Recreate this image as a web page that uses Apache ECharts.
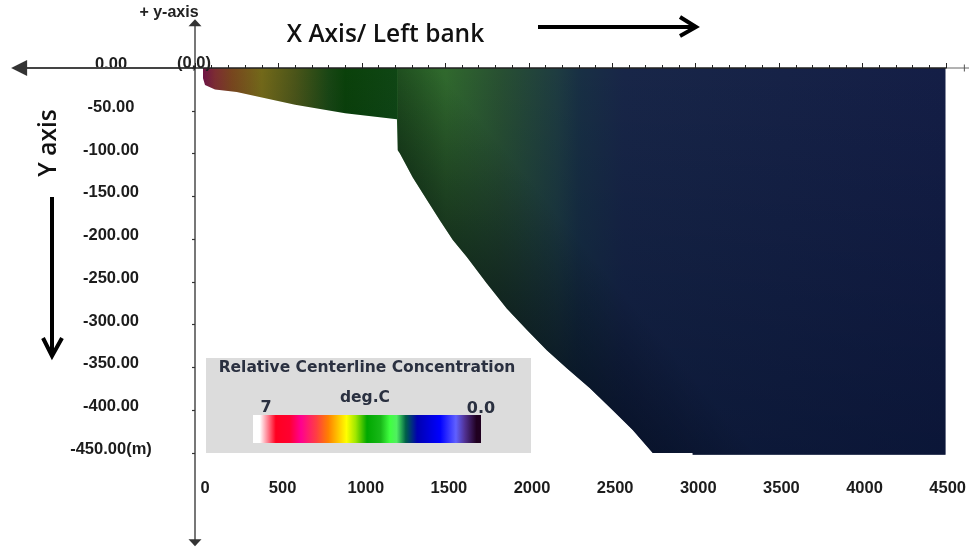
<!DOCTYPE html>
<html>
<head>
<meta charset="utf-8">
<style>
html,body{margin:0;padding:0;background:#fff;overflow:hidden}
#c{width:969px;height:549px;filter:blur(0.45px)}
</style>
<script src="https://cdn.jsdelivr.net/npm/echarts@6/dist/echarts.min.js"></script>
</head>
<body>
<div id="c"></div>
<script>
// ---- data ----
const xTickValues = [0,500,1000,1500,2000,2500,3000,3500,4000,4500];
const xTickLabels = ['0','500','1000','1500','2000','2500','3000','3500','4000','4500'];
const yTickValues = [0,-50,-100,-150,-200,-250,-300,-350,-400,-450];
const yTickLabels = ['0.00','-50.00','-100.00','-150.00','-200.00','-250.00','-300.00','-350.00','-400.00','-450.00(m)'];
// outline of the plume (m, m)
const plumeX = [48,48,60,120,250,600,900,1210,1215,1228,1305,1389,1467,1545,1629,1749,1868,1988,2108,2228,2365,2503,2623,2743,2982,2982,4497,4497];
const plumeY = [0,-12,-20,-25,-28,-43,-53,-60,-96,-100,-128,-154,-178,-201,-221,-252,-281,-306,-330,-351,-374,-400,-423,-450,-450,-452,-452,0];
const lowerBasinStart = 8; // index in the outline where the wide lower reach begins
// centerline concentration along the plume
const stationX = [48,120,222,400,600,800,900,1209,1214,1500,1830,2170,2300,2570,4497];
const stationC = [5.6,5.2,4.9,4.2,3.7,3.4,3.2,3.0,2.8,2.5,2.2,1.9,1.6,1.2,0.5];

// ---- styling ----
const plumeScale = [[5.6,'#6e1446'],[5.2,'#7d2d32'],[4.9,'#78461e'],[4.2,'#736919'],[3.7,'#4b5519'],[3.4,'#194614'],[3.2,'#0a410a'],[3.0,'#0f4614'],[2.8,'#235a23'],[2.5,'#30692d'],[2.2,'#285032'],[1.9,'#1e3c41'],[1.6,'#183044'],[1.2,'#182648'],[0.5,'#141e46']];
function plumeColor(c){
  for(let i=0;i<plumeScale.length-1;i++){
    const a=plumeScale[i],b=plumeScale[i+1];
    if(c<=a[0]&&c>=b[0]) return echarts.color.lerp((a[0]-c)/(a[0]-b[0]),[a[1],b[1]]);
  }
  return plumeScale[plumeScale.length-1][1];
}
const legendStops = [[0,'#ffffff'],[0.03,'#ffffff'],[0.1,'#ff0020'],[0.16,'#ff0030'],[0.21,'#ff0090'],[0.28,'#ff4040'],[0.33,'#ff8000'],[0.37,'#ffc000'],[0.41,'#ffff00'],[0.45,'#a0e800'],[0.5,'#00a800'],[0.56,'#18b818'],[0.6,'#40ff40'],[0.63,'#50f060'],[0.67,'#006048'],[0.72,'#0000b0'],[0.82,'#0000ff'],[0.89,'#6060ff'],[0.93,'#503090'],[0.98,'#200020'],[1,'#200020']];
const FONT='"Liberation Sans",Arial,sans-serif', WIDE='"DejaVu Sans",Verdana,sans-serif', HEAD='"Open Sans","Noto Sans",sans-serif';

const chart = echarts.init(document.getElementById('c'),null,{renderer:'canvas'});

function renderPlume(params,api){
  const pts = plumeX.map((x,i)=>api.coord([x,plumeY[i]]));
  const x0 = api.coord([plumeX[0],0])[0], x1 = api.coord([4497,0])[0];
  const yTop = api.coord([0,0])[1], yBot = api.coord([0,-452])[1];
  const stops = stationX.map((x,i)=>({
    offset:(api.coord([x,0])[0]-x0)/(x1-x0),
    color:plumeColor(stationC[i])
  }));
  const lower = [api.coord([plumeX[lowerBasinStart],0])].concat(pts.slice(lowerBasinStart));
  const a = api.coord([1868,-281]);
  return {type:'group',children:[
    {type:'polygon',shape:{points:pts},style:{fill:new echarts.graphic.LinearGradient(x0,0,x1,0,stops,true)}},
    {type:'polygon',shape:{points:lower},style:{fill:new echarts.graphic.LinearGradient(a[0],a[1],a[0]+77,a[1]-64,[
      {offset:0,color:'rgba(0,0,0,0.4)'},{offset:1,color:'rgba(0,0,0,0)'}],true)}},
    {type:'polygon',shape:{points:pts},style:{fill:new echarts.graphic.LinearGradient(0,yTop,0,yBot,[
      {offset:0,color:'rgba(0,12,38,0)'},{offset:1,color:'rgba(0,12,38,0.45)'}],true)}}
  ]};
}
function renderExtension(params,api){
  const p=api.coord([api.value(0),api.value(1)]), q=api.coord([api.value(2),api.value(3)]);
  return {type:'line',shape:{x1:p[0],y1:p[1],x2:q[0],y2:q[1]},
    style:{stroke:params.dataIndex===0?'#444':'#666',lineWidth:params.dataIndex===0?2:1}};
}

chart.setOption({
  animation:false,
  backgroundColor:'#fff',
  grid:[
    {left:195,right:23,top:68,bottom:96},
    {left:199.5,right:20.5,top:64.5,bottom:99.5}
  ],
  xAxis:[
    {gridIndex:0,type:'value',position:'top',min:0,max:4500,interval:500,z:5,
     axisLine:{show:true,onZero:false,lineStyle:{color:'#222',width:1.5}},
     axisTick:{show:true,length:5,lineStyle:{color:'#222',width:1}},
     minorTick:{show:true,splitNumber:5,length:3,lineStyle:{color:'#222',width:1}},
     axisLabel:{show:false},splitLine:{show:false}},
    {gridIndex:1,type:'value',position:'bottom',min:0,max:4500,interval:500,
     axisLine:{show:false},axisTick:{show:false},splitLine:{show:false},
     axisLabel:{show:true,margin:30,color:'#1c1c1c',fontFamily:FONT,fontWeight:'bold',fontSize:16.5,
       showMinLabel:true,showMaxLabel:true,hideOverlap:false,
       formatter:v=>{const s=xTickLabels[xTickValues.indexOf(v)];return v===0?'{z|'+s+'}':s;},
       rich:{z:{padding:[0,0,0,11],color:'#1c1c1c',fontFamily:FONT,fontWeight:'bold',fontSize:16.5}}}}
  ],
  yAxis:[
    {gridIndex:0,type:'value',min:-450,max:0,interval:50,z:5,
     axisLine:{show:false},
     axisTick:{show:true,length:3,lineStyle:{color:'#333',width:1.2}},
     axisLabel:{show:false},splitLine:{show:false}},
    {gridIndex:1,type:'value',min:-450,max:0,interval:50,
     axisLine:{show:false},axisTick:{show:false},splitLine:{show:false},
     axisLabel:{show:true,margin:88.5,align:'center',color:'#1c1c1c',fontFamily:FONT,fontWeight:'bold',fontSize:16.5,
       showMinLabel:true,showMaxLabel:true,hideOverlap:false,
       formatter:v=>yTickLabels[yTickValues.indexOf(v)]}}
  ],
  series:[
    {type:'custom',xAxisIndex:0,yAxisIndex:0,coordinateSystem:'cartesian2d',clip:false,silent:true,z:2,
     data:[[0,0]],renderItem:renderPlume},
    // horizontal axis beyond the plotted range
    {type:'custom',xAxisIndex:0,yAxisIndex:0,coordinateSystem:'cartesian2d',clip:false,silent:true,z:4,
     data:[[-1054,0,0,0],[4500,0,4650,0]],renderItem:renderExtension},
    // vertical axis with its arrowheads
    {type:'line',xAxisIndex:0,yAxisIndex:0,clip:false,silent:true,z:4,
     data:[[0,-555],[0,53]],
     lineStyle:{color:'#555',width:1.6},itemStyle:{color:'#333',opacity:1},
     showSymbol:true,showAllSymbol:true,symbol:'triangle',symbolSize:[13,7],
     symbolRotate:(v,p)=>p.dataIndex===0?180:0},
    // left arrowhead of the horizontal axis
    {type:'line',xAxisIndex:0,yAxisIndex:0,clip:false,silent:true,z:4,
     data:[[-1054,0]],lineStyle:{opacity:0},itemStyle:{color:'#333',opacity:1},
     showSymbol:true,showAllSymbol:true,symbol:'triangle',symbolSize:[16,16],symbolRotate:90},
    // last tick past the final label
    {type:'line',xAxisIndex:0,yAxisIndex:0,clip:false,silent:true,z:4,
     data:[[4610,0]],lineStyle:{opacity:0},itemStyle:{color:'#555',opacity:1},
     showSymbol:true,showAllSymbol:true,symbol:'rect',symbolSize:[1,7]}
  ],
  graphic:[
    {type:'text',z:20,style:{x:169,y:13,text:'+ y-axis',align:'center',verticalAlign:'middle',fill:'#222',font:'bold 16px '+FONT}},
    {type:'text',z:20,style:{x:194,y:63,text:'(0,0)',align:'center',verticalAlign:'middle',fill:'#222',font:'bold 16.5px '+FONT}},
    {type:'text',z:20,style:{x:385.5,y:35,text:'X Axis/ Left bank',align:'center',verticalAlign:'middle',fill:'#111',font:'600 24.5px '+HEAD}},
    {type:'text',z:20,rotation:Math.PI/2,x:49,y:143,style:{x:0,y:0,text:'Y axis',align:'center',verticalAlign:'middle',fill:'#111',font:'600 24.5px '+HEAD}},
    {type:'polyline',z:20,shape:{points:[[538,27],[696,27]]},style:{stroke:'#000',lineWidth:4,fill:'none'}},
    {type:'polyline',z:20,shape:{points:[[680,17],[696,27],[680,36]]},style:{stroke:'#000',lineWidth:4,fill:'none'}},
    {type:'polyline',z:20,shape:{points:[[52,197],[52,356]]},style:{stroke:'#000',lineWidth:4,fill:'none'}},
    {type:'polyline',z:20,shape:{points:[[43,338],[52,356],[62,338]]},style:{stroke:'#000',lineWidth:4,fill:'none'}},
    {type:'rect',z:20,shape:{x:206,y:358,width:325,height:95},style:{fill:'#dcdcdc'}},
    {type:'rect',z:21,shape:{x:253,y:415,width:228,height:28},style:{fill:new echarts.graphic.LinearGradient(0,0,1,0,legendStops.map(s=>({offset:s[0],color:s[1]})))}},
    {type:'text',z:21,style:{x:367,y:368,text:'Relative Centerline Concentration',align:'center',verticalAlign:'middle',fill:'#2a3040',font:'bold 15.5px '+WIDE}},
    {type:'text',z:21,style:{x:365,y:398,text:'deg.C',align:'center',verticalAlign:'middle',fill:'#2a3040',font:'bold 15.5px '+WIDE}},
    {type:'text',z:21,style:{x:266,y:408,text:'7',align:'center',verticalAlign:'middle',fill:'#2a3040',font:'bold 16px '+WIDE}},
    {type:'text',z:21,style:{x:481,y:409,text:'0.0',align:'center',verticalAlign:'middle',fill:'#2a3040',font:'bold 16px '+WIDE}}
  ]
});
</script>
</body>
</html>
